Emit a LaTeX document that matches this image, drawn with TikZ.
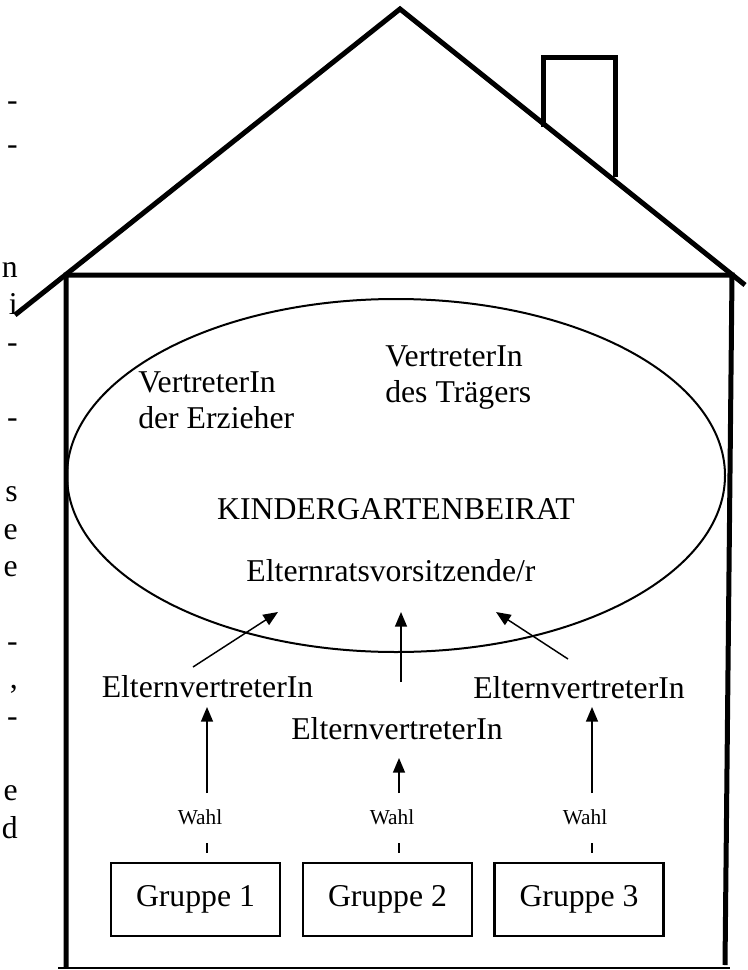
\documentclass[tikz,border=0pt]{standalone}
\usepackage{fontspec}
\setmainfont{Liberation Serif}
\usetikzlibrary{arrows.meta,shapes.geometric}
\begin{document}
\begin{tikzpicture}[x=0.75pt,y=-0.75pt,
  wall/.style={line width=3.75pt, line join=miter},
  lbl/.style={font=\fontsize{23.8}{28}\selectfont, inner sep=0pt, anchor=base},
  frag/.style={font=\fontsize{23.8}{28}\selectfont, inner sep=0pt, anchor=base east},
  wahl/.style={font=\fontsize{16}{19}\selectfont, inner sep=0pt, anchor=base},
  grp/.style={draw, line width=1.9pt, minimum width=126.75pt, minimum height=54.75pt, inner sep=0pt, font=\fontsize{23.8}{28}\selectfont},
  arr/.style={-{Triangle[length=11pt,width=9pt]}, line width=1.1pt},
  tickline/.style={line width=1.1pt}]
\useasboundingbox (0,0) rectangle (747,970);
% house
\draw[wall] (15,315) -- (400,9) -- (745,285);
\draw[wall] (543,127) -- (543,58) -- (615,58) -- (615,177);
\draw[wall] (66,968) -- (66,275) -- (732,275) -- (725,965);
\draw[line width=1.9pt] (58,968) -- (730,968);
% left margin fragments
\node[frag] (f1) at (18,111) {-};
\node[frag] (f2) at (18,155) {-};
\node[frag] (f3) at (18,277) {n};
\node[frag] (f4) at (18,314) {i};
\node[frag] (f5) at (18,352) {-};
\node[frag] (f6) at (18,427) {-};
\node[frag] (f7) at (18,501) {s};
\node[frag] (f8) at (18,539) {e};
\node[frag] (f9) at (18,576) {e};
\node[frag] (f10) at (18,651) {-};
\node[frag] (f11) at (18,688) {,};
\node[frag] (f12) at (18,726) {-};
\node[frag] (f13) at (18,800) {e};
\node[frag] (f14) at (18,838) {d};
% ellipse
\node[draw, ellipse, line width=1.5pt, minimum width=493.5pt, minimum height=264.75pt, inner sep=0pt] (beirat) at (396,475.5) {};
\node[lbl, anchor=base west] (vt1) at (385,366) {VertreterIn};
\node[lbl, anchor=base west] (vt2) at (385,402.5) {des Trägers};
\node[lbl, anchor=base west] (ve1) at (138,392) {VertreterIn};
\node[lbl, anchor=base west] (ve2) at (138,428.5) {der Erzieher};
\node[lbl] (kgb) at (396,519) {KINDERGARTENBEIRAT};
\node[lbl] (evors) at (391,581) {Elternratsvorsitzende/r};
% parent representatives
\node[lbl] (ev1) at (207.5,697) {ElternvertreterIn};
\node[lbl] (ev3) at (579,698) {ElternvertreterIn};
\node[lbl] (ev2) at (397,739) {ElternvertreterIn};
\coordinate (d1s) at (193,667);
\coordinate (d1e) at (278,612);
\coordinate (d2s) at (401,682);
\coordinate (d2e) at (401,612);
\coordinate (d3s) at (568,659);
\coordinate (d3e) at (496,612);
\draw[arr] (d1s) -- (d1e);
\draw[arr] (d2s) -- (d2e);
\draw[arr] (d3s) -- (d3e);
% Wahl
\node[wahl] (w1) at (200,824) {Wahl};
\node[wahl] (w2) at (392,824) {Wahl};
\node[wahl] (w3) at (585,824) {Wahl};
\coordinate (u1b) at (207,793);
\coordinate (u1t) at (207,707);
\coordinate (u2b) at (399,793);
\coordinate (u2t) at (399,758);
\coordinate (u3b) at (592,793);
\coordinate (u3t) at (592,707);
\draw[arr] (u1b) -- (u1t);
\draw[arr] (u2b) -- (u2t);
\draw[arr] (u3b) -- (u3t);
% groups
\node[grp] (g1) at (195.5,899.5) {Gruppe 1};
\node[grp] (g2) at (387.5,899.5) {Gruppe 2};
\node[grp] (g3) at (579,899.5) {Gruppe 3};
\coordinate (t1a) at (207,843);
\coordinate (t1b) at (207,853);
\coordinate (t2a) at (399,843);
\coordinate (t2b) at (399,853);
\coordinate (t3a) at (592,843);
\coordinate (t3b) at (592,853);
\draw[tickline] (t1a) -- (t1b);
\draw[tickline] (t2a) -- (t2b);
\draw[tickline] (t3a) -- (t3b);
\end{tikzpicture}
\end{document}
